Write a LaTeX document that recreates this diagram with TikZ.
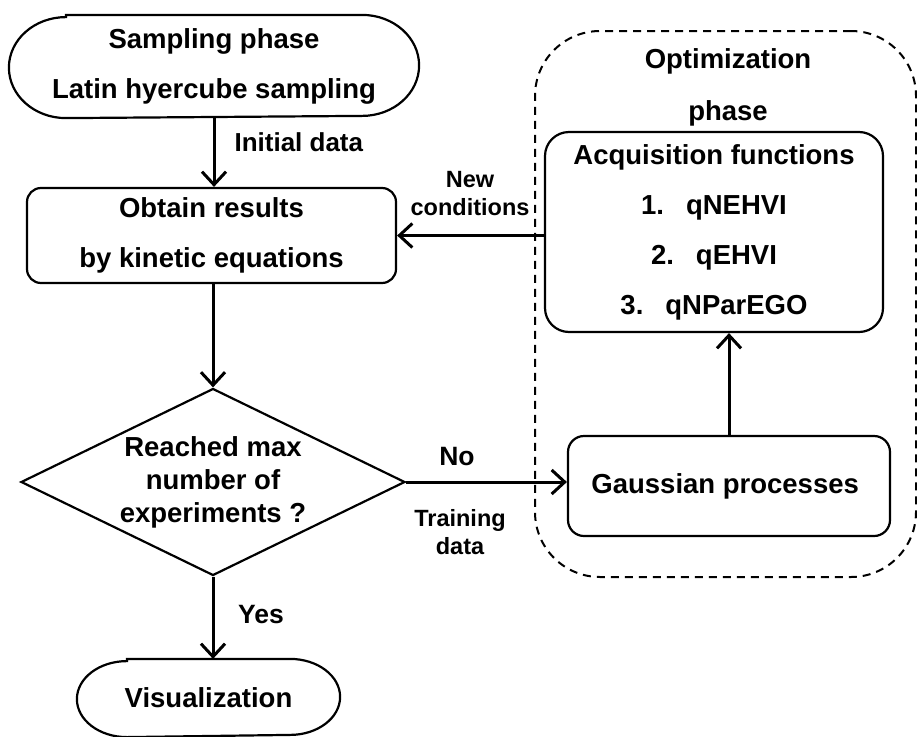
\documentclass[tikz,border=0pt]{standalone}
\usepackage{fontspec}
\setmainfont{Liberation Sans}
\usetikzlibrary{shapes.geometric,positioning,arrows.meta}

\begin{document}
\begin{tikzpicture}[x=1pt, y=-1pt,
  block/.style={draw, line width=2.2pt, align=center, inner sep=0pt,
    font=\bfseries\fontsize{27.5}{50}\selectfont},
  flow/.style={line width=3pt, -{Straight Barb[length=13pt, width=24pt, line width=3pt]}},
  note/.style={align=center, font=\bfseries\fontsize{23.5}{28}\selectfont}]

  \useasboundingbox (0,0) rectangle (917,736);

  % optimization phase frame
  \node[draw, line width=2pt, dash pattern=on 8pt off 6pt, rounded corners=65pt,
        minimum width=381pt, minimum height=546pt] (opt) at (725.5,304) {};
  \node[align=center, font=\bfseries\fontsize{27.5}{52}\selectfont] (optlbl) at (728,87) {Optimization\\phase};

  \node[block, draw=none, minimum width=408pt, minimum height=101pt] (samp) at (214,66.5) {
    Sampling phase\\Latin hyercube sampling
  };
  \draw[line width=2.2pt] ([xshift=57pt]samp.north west) -- ([xshift=-57pt]samp.north east)
    arc[start angle=90, end angle=-90, x radius=57pt, y radius=50.5pt]
    -- ([xshift=57pt]samp.south west)
    arc[start angle=270, end angle=90, x radius=57pt, y radius=50.5pt] -- cycle;

  \node[block, rounded corners=14pt, minimum width=369pt, minimum height=95pt] (obt) at (211.5,235.5) {
    Obtain results\\by kinetic equations
  };

  \node[block, diamond, aspect=2.05, minimum width=384pt, minimum height=187pt,
        font=\bfseries\fontsize{27.5}{33}\selectfont] (dec) at (213,482) {
    Reached max\\number of\\experiments ?
  };

  \node[block, draw=none, minimum width=261pt, minimum height=76pt] (vis) at (208.5,698) {Visualization};
  \draw[line width=2.2pt] ([xshift=50pt]vis.north west) -- ([xshift=-50pt]vis.north east)
    arc[start angle=90, end angle=-90, x radius=50pt, y radius=38pt]
    -- ([xshift=50pt]vis.south west)
    arc[start angle=270, end angle=90, x radius=50pt, y radius=38pt] -- cycle;

  \node[block, rounded corners=24pt, minimum width=338pt, minimum height=200pt] (acq) at (714,232) {
    Acquisition functions\\1.\hspace{0.8em}qNEHVI\\2.\hspace{0.8em}qEHVI\\3.\hspace{0.8em}qNParEGO
  };

  \node[block, rounded corners=16pt, minimum width=322pt, minimum height=100pt] (gp) at (729,486) {
    Gaussian processes
  };

  % edge labels
  \node[note, font=\bfseries\fontsize{26}{30}\selectfont, anchor=west] (init) at (231,142) {Initial data};
  \node[note] (newc) at (470,194) {New\\conditions};
  \node[note, font=\bfseries\fontsize{26.5}{30}\selectfont] (no) at (457,457) {No};
  \node[note] (train) at (460,532) {Training\\data};
  \node[note, font=\bfseries\fontsize{26.5}{30}\selectfont] (yes) at (261,615) {Yes};

  % connectors
  \draw[flow] (samp.south) -- (samp.south |- obt.north);
  \draw[flow] (dec.north |- obt.south) -- (dec.north);
  \draw[flow] (dec.south) -- (dec.south |- vis.north);
  \draw[flow] (dec.east) -- (dec.east -| gp.west);
  \draw[flow] (gp.north) -- (gp.north |- acq.south);
  \draw[flow] (acq.west |- obt.east) -- (obt.east);

\end{tikzpicture}
\end{document}
